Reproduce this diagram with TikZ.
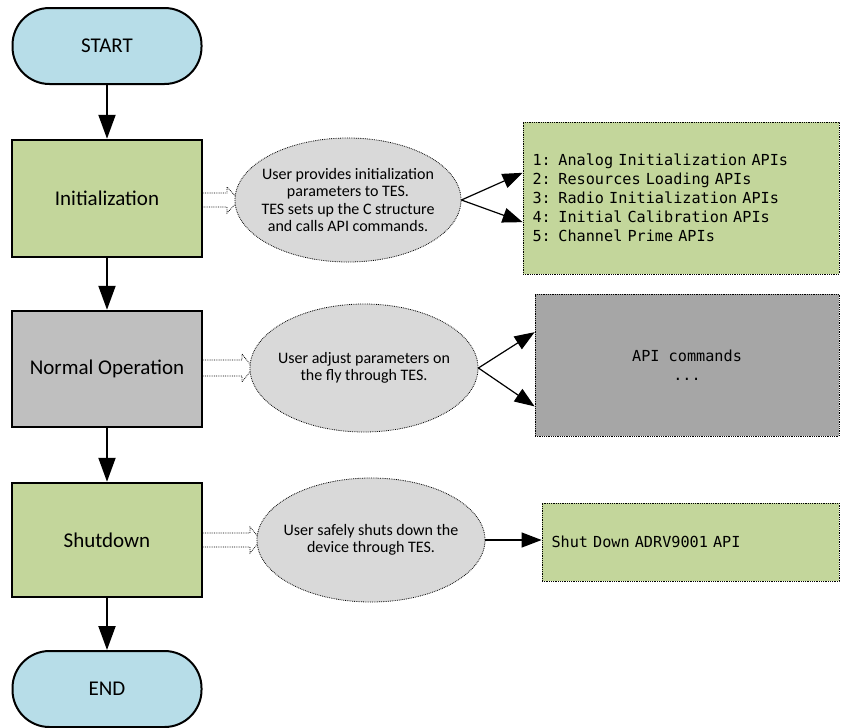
\documentclass[tikz,border=0pt]{standalone}
\usepackage{fontspec}
\setmainfont{Carlito}
\setmonofont{DejaVu Sans Mono}
\usetikzlibrary{arrows.meta,calc,shapes.geometric}

\definecolor{startblue}{HTML}{B7DDE8}
\definecolor{stepgreen}{HTML}{C3D69B}
\definecolor{stepgray}{HTML}{BFBFBF}
\definecolor{notegray}{HTML}{D9D9D9}
\definecolor{apigray}{HTML}{A6A6A6}

\begin{document}
\begin{tikzpicture}[x=1pt,y=-1pt,
    terminal/.style={draw,line width=2pt,fill=startblue,rounded corners=37pt,
        minimum width=189pt,minimum height=76pt,font=\fontsize{21}{25}\selectfont},
    stage/.style={draw,line width=2.5pt,minimum width=190pt,minimum height=116pt,
        font=\fontsize{21}{25}\selectfont},
    note/.style={ellipse,draw,densely dotted,line width=0.8pt,fill=notegray,align=center,
        inner xsep=-12pt,inner ysep=0pt,font=\fontsize{16}{17.5}\selectfont},
    apibox/.style={draw,densely dotted,line width=0.8pt,font=\ttfamily\fontsize{15.2}{19}\selectfont},
    flow/.style={line width=2pt,-{Triangle[length=24pt,width=17pt]}},
    call/.style={line width=1.2pt,-{Triangle[length=20pt,width=15pt]}},
    hollow/.style={densely dotted,line width=0.8pt}]
    \useasboundingbox (0,0) rectangle (841,728);

    % Main flow, left column
    \node[terminal] (start) at (107,46) {START};
    \node[stage,fill=stepgreen,minimum height=117pt] (init) at (107,198.5) {Initialization};
    \node[stage,fill=stepgray] (normal) at (107,369) {Normal Operation};
    \node[stage,fill=stepgreen,minimum height=114pt] (shut) at (107,540) {Shutdown};
    \node[terminal] (end) at (107,689) {END};

    \draw[flow] (start) -- (init);
    \draw[flow] (init) -- (normal);
    \draw[flow] (normal) -- (shut);
    \draw[flow] (shut) -- (end);

    % Hollow arrows from stages to TES notes (drawn under the notes)
    \draw[hollow] ($(init.east |- 0,200)+(0,-7)$) -- (227,193) -- (227,187) -- (239,200)
        -- (227,213) -- (227,207) -- ($(init.east |- 0,200)+(0,7)$);
    \draw[hollow] ($(normal.east |- 0,368)+(0,-8)$) -- (242,360) -- (242,354) -- (253,368)
        -- (242,382) -- (242,376) -- ($(normal.east |- 0,368)+(0,8)$);
    \draw[hollow] ($(shut.east |- 0,540)+(0,-7)$) -- (250,533) -- (250,527) -- (261,540)
        -- (250,553) -- (250,547) -- ($(shut.east |- 0,540)+(0,7)$);

    % TES notes
    \node[note,minimum width=226pt,minimum height=124pt] (e1) at (348,200)
        {User provides initialization\\parameters to TES.\\TES sets up the C structure\\and calls API commands.};
    \node[note,minimum width=228pt,minimum height=128pt] (e2) at (364,368)
        {User adjust parameters on\\the fly through TES.};
    \node[note,minimum width=228pt,minimum height=124pt] (e3) at (371,540)
        {User safely shuts down the\\device through TES.};

    % API boxes, right column
    \node[apibox,fill=stepgreen,minimum width=316pt,minimum height=152pt,text width=297pt,align=left] (b1) at (681,198)
        {1: Analog Initialization APIs\\2: Resources Loading APIs\\3: Radio Initialization APIs\\4: Initial Calibration APIs\\5: Channel Prime APIs};
    \node[apibox,fill=apigray,minimum width=304pt,minimum height=142pt,align=center] (b2) at (687,365)
        {API commands\\...};
    \node[apibox,fill=stepgreen,minimum width=297pt,minimum height=78pt,text width=278pt,align=left] (b3) at (690.5,542)
        {Shut Down ADRV9001 API};

    % Calls from notes to API boxes
    \draw[call] (e1.east) -- ($(b1.north west)!0.335!(b1.south west)$);
    \draw[call] (e1.east) -- ($(b1.north west)!0.658!(b1.south west)$);
    \draw[call] (e2.east) -- ($(b2.north west)!0.27!(b2.south west)$);
    \draw[call] (e2.east) -- ($(b2.north west)!0.79!(b2.south west)$);
    \draw[call] (e3.east) -- (b3.west |- e3.east);
\end{tikzpicture}
\end{document}
